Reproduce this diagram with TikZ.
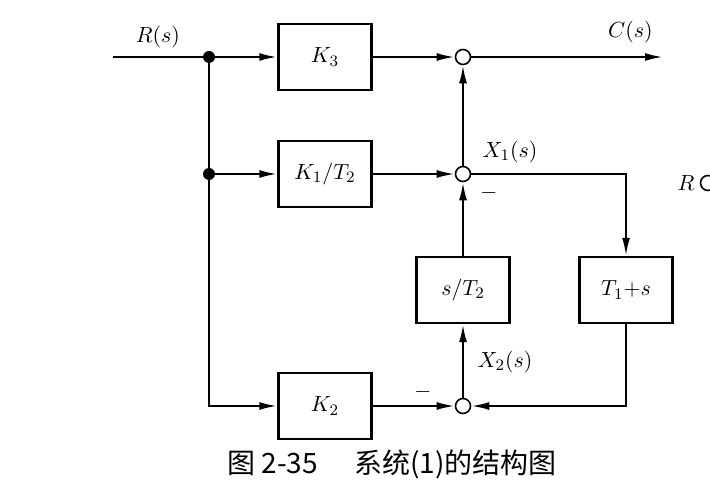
\documentclass[tikz,border=0pt]{standalone}
\usepackage{fontspec}
\newfontfamily\cjk{Noto Sans CJK SC}
\usetikzlibrary{positioning}
\usetikzlibrary{arrows.meta}
\tikzstyle{block} = [rectangle, draw=black, line width=1.2pt, minimum width=46.5pt, minimum height=33pt, inner sep=0pt, font=\fontsize{11}{11}\selectfont]
\tikzstyle{sum} = [circle, draw=black, line width=0.8pt, fill=white, minimum size=7.5pt, inner sep=0pt]
\tikzstyle{branch} = [circle, fill=black, minimum size=6pt, inner sep=0pt]
\tikzstyle{sig} = [font=\fontsize{11}{11}\selectfont, inner sep=0pt]
\tikzstyle{wire} = [line width=1.1pt, -{Latex[length=9pt,width=4pt]}]

\begin{document}
\begin{tikzpicture}[on grid, node distance=58.5pt]
\useasboundingbox (0,0) rectangle (355pt,-240pt);

% Define nodes
\node[block] (k3) at (162.5pt,-28.5pt) {$K_3$};
\node[block, below = of k3]                  (k1t2) {$K_1/T_2$};
\node[block, below = 174.5pt of k3]          (k2)   {$K_2$};
\node[sum,   right = 69pt of k3]             (s1)   {};
\node[sum,   right = 69pt of k1t2]           (s2)   {};
\node[sum,   right = 69pt of k2]             (s3)   {};
\node[block, below = 58pt of s2]             (st2)  {$s/T_2$};
\node[block, right = 81.5pt of st2]          (t1s)  {$T_1{+}s$};
\node[branch, left = 58pt of k3]             (b1)   {};
\node[branch, left = 58pt of k1t2]           (b2)   {};
\coordinate[left  = 48pt of b1]              (in);
\coordinate[right = 100pt of s1]             (out);

% Labels
\node[sig, above right = 11pt and 23.5pt of s2] (x1) {$X_1(s)$};
\node[sig, above right = 22pt and 21pt of s3]   (x2) {$X_2(s)$};
\node[sig, below right = 9.5pt and 13pt of s2]  (m1) {$-$};
\node[sig, above left  = 7pt and 20pt of s3]    (m2) {$-$};

% Edges
\draw[wire] (in) -- node[sig, above=4pt] (r) {$R(s)$} (b1) -- (k3);
\draw[wire] (b1) -- (b2) |- (k2);
\draw[wire] (b2) -- (k1t2);
\draw[wire] (k3) -- (s1);
\draw[wire] (k1t2) -- (s2);
\draw[wire] (k2) -- (s3);
\draw[wire] (s1) -- node[sig, above=6.5pt, pos=0.83] (c) {$C(s)$} (out);
\draw[wire] (s2) -- (s1);
\draw[wire] (st2) -- (s2);
\draw[wire] (s3) -- (st2);
\draw[wire] (s2) -| (t1s);
\draw[wire] (t1s) |- (s3);

% part of the next figure, cut at the edge
\node[sig] (rr) at (343pt,-91.5pt) {$R$};
\node[sum] (cut) at (354pt,-91.5pt) {};

% Caption
\node[font=\cjk\fontsize{14}{14}\selectfont] (cap) at (196pt,-232pt) {图\ 2-35\hspace{1.3em}系统(1)的结构图};

\end{tikzpicture}
\end{document}
